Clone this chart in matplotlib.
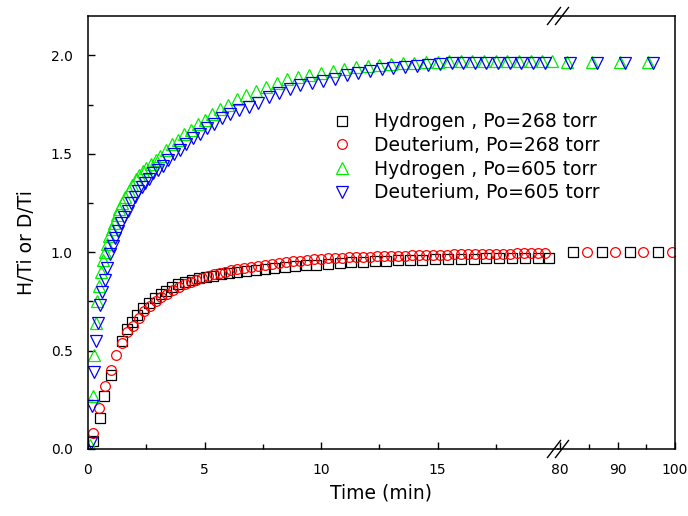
import matplotlib.pyplot as plt
from matplotlib.ticker import FixedLocator

# Hydrogen, Po = 268 torr
h268_t = [0.23, 0.51, 0.70, 1.00, 1.47, 1.66, 1.90, 2.12, 2.37, 2.62, 2.88, 3.12,
          3.36, 3.62, 3.88, 4.15, 4.45, 4.75, 5.05, 5.35, 5.70, 6.05, 6.40, 6.80,
          7.20, 7.60, 8.00, 8.45, 8.90, 9.35, 9.80, 10.3, 10.8, 11.3, 11.8, 12.3,
          12.8, 13.3, 13.8, 14.35, 14.9, 15.45, 16.0, 16.55, 17.1, 17.65, 18.2,
          18.75, 19.3, 19.8,
          82.3, 87.3, 92.2, 97.0]
h268_v = [0.04, 0.16, 0.27, 0.375, 0.55, 0.61, 0.646, 0.68, 0.715, 0.74, 0.765, 0.785,
          0.805, 0.825, 0.84, 0.85, 0.86, 0.868, 0.875, 0.88, 0.888, 0.895, 0.90, 0.905,
          0.91, 0.915, 0.92, 0.925, 0.93, 0.933, 0.936, 0.94, 0.945, 0.948, 0.95, 0.953,
          0.955, 0.958, 0.96, 0.962, 0.963, 0.965, 0.966, 0.967, 0.968, 0.969, 0.97,
          0.97, 0.971, 0.972,
          1.0, 1.0, 1.0, 1.0]

# Deuterium, Po = 268 torr
d268_t = [0.23, 0.49, 0.71, 1.00, 1.21, 1.47, 1.69, 1.95, 2.19, 2.40, 2.65, 2.90,
          3.15, 3.40, 3.66, 3.90, 4.15, 4.40, 4.65, 4.90, 5.15, 5.40, 5.65, 5.90,
          6.15, 6.40, 6.70, 7.0, 7.3, 7.6, 7.9, 8.2, 8.5, 8.8, 9.1, 9.4, 9.7, 10.0,
          10.3, 10.6, 10.9, 11.2, 11.5, 11.8, 12.1, 12.4, 12.7, 13.0, 13.3, 13.6,
          13.9, 14.2, 14.5, 14.8, 15.1, 15.4, 15.7, 16.0, 16.3, 16.6, 16.9, 17.2,
          17.5, 17.8, 18.1, 18.4, 18.7, 19.0, 19.3, 19.6,
          84.7, 89.6, 94.4, 99.5]
d268_v = [0.08, 0.21, 0.32, 0.40, 0.48, 0.54, 0.595, 0.625, 0.665, 0.70, 0.725, 0.75,
          0.77, 0.79, 0.81, 0.825, 0.84, 0.85, 0.86, 0.87, 0.88, 0.888, 0.895, 0.90,
          0.91, 0.915, 0.92, 0.925, 0.93, 0.935, 0.94, 0.945, 0.95, 0.953, 0.956, 0.96,
          0.963, 0.966, 0.968, 0.97, 0.972, 0.974, 0.976, 0.977, 0.978, 0.979, 0.98,
          0.981, 0.982, 0.983, 0.984, 0.985, 0.986, 0.987, 0.988, 0.988, 0.989, 0.99,
          0.99, 0.991, 0.991, 0.992, 0.992, 0.993, 0.993, 0.994, 0.994, 0.995, 0.995,
          0.996,
          1.0, 1.0, 1.0, 1.0]

# Hydrogen, Po = 605 torr
h605_t = [0.10, 0.22, 0.27, 0.33, 0.40, 0.47, 0.55, 0.63, 0.72, 0.82, 0.92, 1.02,
          1.12, 1.23, 1.35, 1.47, 1.60, 1.75, 1.90, 2.05, 2.20, 2.35, 2.50, 2.70,
          2.90, 3.10, 3.35, 3.60, 3.85, 4.10, 4.40, 4.70, 5.00, 5.30, 5.65, 6.00,
          6.40, 6.80, 7.20, 7.65, 8.10, 8.55, 9.00, 9.50, 10.0, 10.5, 11.0, 11.5,
          12.0, 12.5, 13.0, 13.5, 14.0, 14.5, 15.0, 15.5, 16.0, 16.5, 17.0, 17.5,
          18.0, 18.5, 19.0, 19.5, 19.9,
          81.3, 85.6, 90.4, 95.3]
h605_v = [0.02, 0.27, 0.48, 0.64, 0.75, 0.83, 0.90, 0.96, 1.00, 1.04, 1.08, 1.12,
          1.15, 1.19, 1.22, 1.25, 1.28, 1.31, 1.34, 1.37, 1.39, 1.41, 1.43, 1.45,
          1.47, 1.49, 1.52, 1.55, 1.57, 1.60, 1.62, 1.65, 1.67, 1.70, 1.73, 1.75,
          1.78, 1.80, 1.82, 1.84, 1.86, 1.88, 1.89, 1.90, 1.91, 1.92, 1.93, 1.94,
          1.945, 1.95, 1.955, 1.96, 1.96, 1.965, 1.965, 1.97, 1.97, 1.97, 1.97, 1.97,
          1.97, 1.97, 1.97, 1.97, 1.97,
          1.965, 1.965, 1.965, 1.965]

# Deuterium, Po = 605 torr
d605_t = [0.13, 0.17, 0.26, 0.34, 0.42, 0.50, 0.60, 0.71, 0.82, 0.94, 1.06, 1.18,
          1.30, 1.43, 1.56, 1.70, 1.85, 2.00, 2.15, 2.30, 2.45, 2.60, 2.80, 3.00,
          3.20, 3.45, 3.70, 3.95, 4.20, 4.50, 4.80, 5.10, 5.40, 5.75, 6.10, 6.50,
          6.90, 7.30, 7.75, 8.20, 8.65, 9.10, 9.60, 10.1, 10.6, 11.1, 11.6, 12.1,
          12.6, 13.1, 13.6, 14.1, 14.6, 15.1, 15.6, 16.1, 16.6, 17.1, 17.6, 18.1,
          18.6, 19.1, 19.6,
          81.7, 86.4, 91.3, 96.2]
d605_v = [0.03, 0.22, 0.39, 0.55, 0.64, 0.73, 0.80, 0.86, 0.92, 0.99, 1.03, 1.07,
          1.11, 1.15, 1.18, 1.21, 1.25, 1.28, 1.31, 1.33, 1.35, 1.37, 1.40, 1.42,
          1.44, 1.47, 1.50, 1.52, 1.55, 1.58, 1.60, 1.63, 1.65, 1.68, 1.70, 1.72,
          1.74, 1.76, 1.79, 1.81, 1.83, 1.85, 1.86, 1.87, 1.88, 1.90, 1.91, 1.92,
          1.93, 1.935, 1.94, 1.945, 1.95, 1.955, 1.96, 1.96, 1.96, 1.96, 1.96, 1.96,
          1.96, 1.96, 1.96,
          1.96, 1.96, 1.96, 1.96]

labels = ['Hydrogen , Po=268 torr', 'Deuterium, Po=268 torr',
          'Hydrogen , Po=605 torr', 'Deuterium, Po=605 torr']

series = [
    (h268_t, h268_v, 's', 'black', 6.5),
    (d268_t, d268_v, 'o', 'red', 7),
    (h605_t, h605_v, '^', '#00ee00', 8.5),
    (d605_t, d605_v, 'v', 'blue', 8.5),
]

left_ticks = [0, 5, 10, 15]
left_minor = [2.5, 7.5, 12.5, 17.5]
right_ticks = [80, 90, 100]
right_minor = [85, 95]
y_ticks = [0, 0.5, 1.0, 1.5, 2.0]
y_minor = [0.25, 0.75, 1.25, 1.75]

plt.rcParams['font.family'] = 'DejaVu Sans'
fig = plt.figure(figsize=(6.88, 5.16), dpi=100)

W, H = 688, 516
ax1 = fig.add_axes([88 / W, 67 / H, 470 / W, 433 / H])
ax2 = fig.add_axes([558 / W, 67 / H, 117 / W, 433 / H])
ax2.patch.set_alpha(0)

for ax in (ax1, ax2):
    for t, v, m, c, ms in series:
        ax.plot(t, v, linestyle='none', marker=m, markersize=ms,
                markerfacecolor='none', markeredgecolor=c, markeredgewidth=0.9)
    ax.set_ylim(0, 2.2)
    for s in ax.spines.values():
        s.set_linewidth(1.1)
    ax.tick_params(which='both', direction='in', top=False, right=False,
                   labelsize=10, pad=10, width=1.0)
    ax.tick_params(which='major', length=5)
    ax.tick_params(which='minor', length=3.5)

ax1.set_xlim(0, 20.17)
ax1.set_xticks(left_ticks)
ax1.xaxis.set_minor_locator(FixedLocator(left_minor))
ax1.set_yticks(y_ticks, ['%.1f' % y for y in y_ticks])
ax1.yaxis.set_minor_locator(FixedLocator(y_minor))
ax1.tick_params(axis='y', pad=11)
ax1.spines['right'].set_visible(False)

ax2.set_xlim(79.65, 100)
ax2.set_xticks(right_ticks)
ax2.xaxis.set_minor_locator(FixedLocator(right_minor))
ax2.spines['left'].set_visible(False)
ax2.tick_params(axis='y', which='both', left=False, labelleft=False)

# break marks on the top and bottom axis lines
dx, dy = 6.5 / 470, 8.5 / 433
for off in (-4 / 470, 4 / 470):
    for y0 in (0, 1):
        ax1.plot([1 + off - dx, 1 + off + dx], [y0 - dy, y0 + dy],
                 transform=ax1.transAxes, color='black', lw=1.0, clip_on=False)

leg = ax1.legend(labels, loc='upper left', bbox_to_anchor=(0.505, 0.795),
                 frameon=False, fontsize=13.5, handletextpad=1.2,
                 labelspacing=0.25, handlelength=1.0, borderaxespad=0)

fig.text(26 / W, 1 - 243 / H, 'H/Ti or D/Ti', rotation=90, ha='center',
         va='center', fontsize=13.5)
fig.text(381 / W, 1 - 493 / H, 'Time (min)', ha='center', va='center',
         fontsize=13.5)

fig.savefig('out.png', dpi=100)
